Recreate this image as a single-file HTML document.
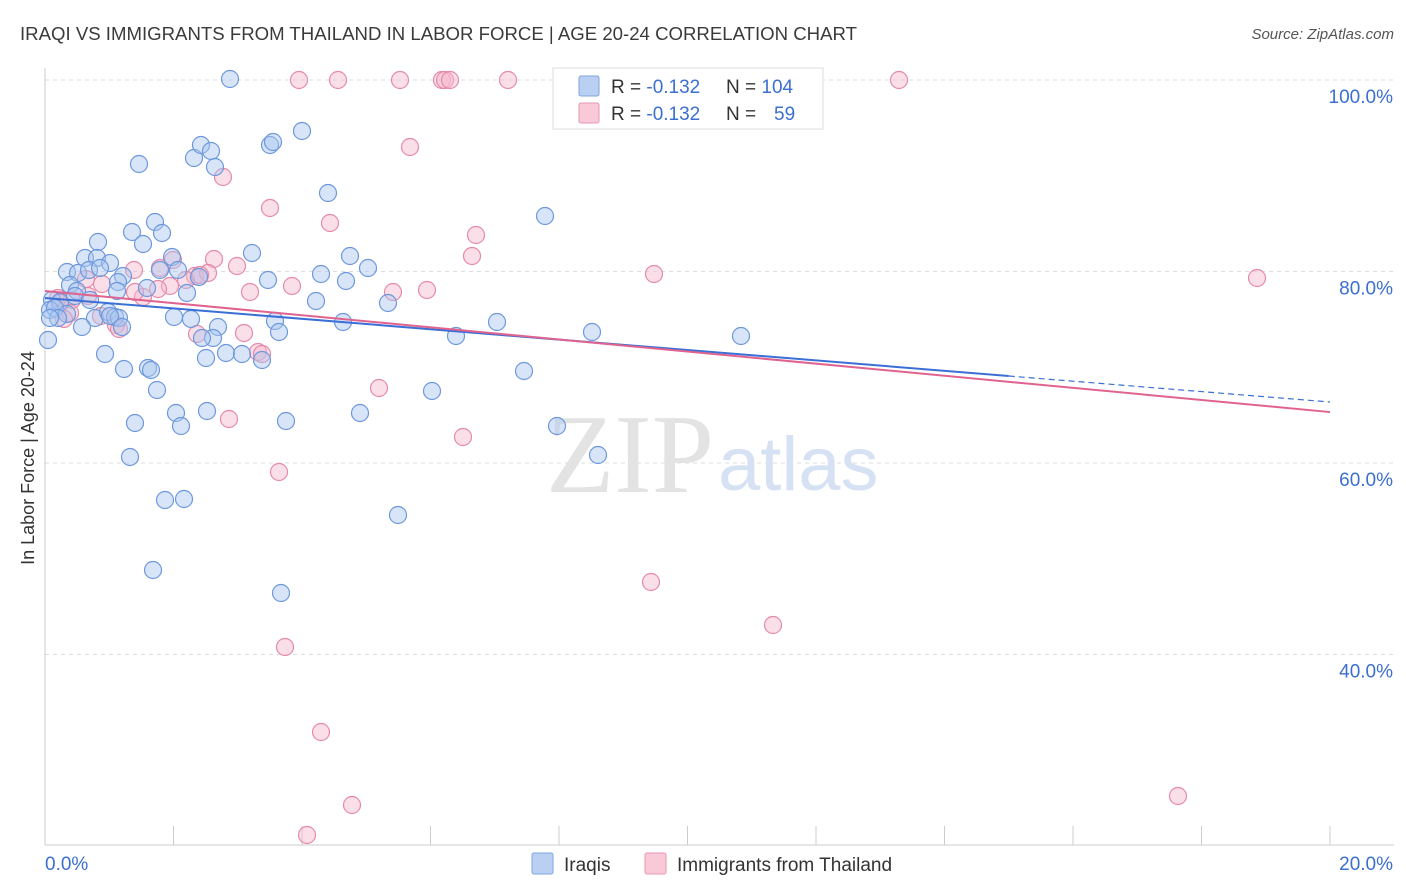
<!DOCTYPE html>
<html><head><meta charset="utf-8"><style>
body{margin:0;background:#fff;font-family:"Liberation Sans",sans-serif}
</style></head><body>
<svg width="1406" height="892" style="display:block">
<text x="20" y="40" font-size="18" fill="#3a3a3a" textLength="837" lengthAdjust="spacingAndGlyphs">IRAQI VS IMMIGRANTS FROM THAILAND IN LABOR FORCE | AGE 20-24 CORRELATION CHART</text>
<text x="1394" y="39" font-size="15" fill="#555" text-anchor="end" font-style="italic">Source: ZipAtlas.com</text>
<text transform="translate(34,458) rotate(-90)" font-size="18" fill="#333" text-anchor="middle">In Labor Force | Age 20-24</text>
<g id="grid"></g>
<text x="714" y="492" font-size="112" fill="#e3e3e3" text-anchor="end" font-family="Liberation Serif">ZIP</text>
<text x="718" y="490" font-size="76" fill="#d6e2f4">atlas</text>
<g id="marks"></g>
<g>
<rect x="553" y="68" width="270" height="61" fill="#fff" stroke="#ddd"/>
<rect x="579" y="76" width="20" height="20" fill="#b9d0f2" stroke="#7ea6e0" rx="2"/>
<rect x="579" y="103" width="20" height="20" fill="#f9c9d8" stroke="#e896b2" rx="2"/>
<text x="611" y="93" font-size="19" fill="#333">R = <tspan fill="#3b6fd0">-0.132</tspan></text>
<text x="726" y="93" font-size="19" fill="#333">N = <tspan fill="#3b6fd0">104</tspan></text>
<text x="611" y="120" font-size="19" fill="#333">R = <tspan fill="#3b6fd0">-0.132</tspan></text>
<text x="726" y="120" font-size="19" fill="#333">N = </text>
<text x="774" y="120" font-size="19" fill="#3b6fd0">59</text>
</g>
<g>
<rect x="532" y="853" width="21" height="21" fill="#b9d0f2" stroke="#7ea6e0" rx="2"/>
<text x="564" y="871" font-size="19" fill="#333">Iraqis</text>
<rect x="645" y="853" width="21" height="21" fill="#f9c9d8" stroke="#e896b2" rx="2"/>
<text x="677" y="871" font-size="19" fill="#333">Immigrants from Thailand</text>
</g>
</svg>
<script>
const blue=[[230,79],[302,131],[139,164],[194,158],[201,145],[211,151],[215,167],[270,145],[273,142],[328,193],[545,216],[155,222],[132,232],[162,233],[143,244],[98,242],[252,253],[172,257],[350,256],[85,258],[97,258],[110,263],[67,272],[78,273],[89,270],[100,268],[123,276],[160,270],[178,270],[199,277],[268,280],[321,274],[346,281],[368,268],[70,285],[77,291],[118,282],[147,288],[187,293],[117,291],[316,301],[388,303],[52,300],[60,302],[50,310],[55,308],[67,314],[58,318],[75,296],[90,300],[95,318],[108,312],[115,317],[119,318],[110,316],[122,327],[82,327],[174,317],[191,319],[218,327],[275,321],[343,322],[497,322],[456,336],[279,332],[592,332],[741,336],[213,338],[202,338],[105,354],[206,358],[226,353],[242,354],[262,360],[124,369],[148,368],[151,370],[524,371],[157,390],[432,391],[176,413],[207,411],[360,413],[135,423],[181,426],[286,421],[557,426],[130,457],[598,455],[165,500],[184,499],[398,515],[153,570],[281,593],[48,340],[50,318]];
const pink=[[299,80],[338,80],[400,80],[442,80],[445,80],[450,80],[508,80],[899,80],[410,147],[223,177],[270,208],[330,223],[476,235],[472,256],[214,259],[237,266],[134,270],[160,268],[173,260],[195,276],[208,273],[186,280],[200,275],[654,274],[1257,278],[170,286],[158,289],[143,297],[135,292],[250,292],[292,286],[393,292],[427,290],[86,279],[102,284],[88,296],[58,298],[72,300],[101,316],[116,325],[119,329],[70,313],[64,319],[60,303],[197,334],[244,333],[258,352],[262,354],[379,388],[229,419],[463,437],[279,472],[651,582],[773,625],[285,647],[321,732],[352,805],[1178,796],[307,835]];
const iraqiX=blue.map(p=>(p[0]-45)/1285*20), iraqiY=blue.map(p=>100-(p[1]-80)/191.5*20);
const thaiX=pink.map(p=>(p[0]-45)/1285*20), thaiY=pink.map(p=>100-(p[1]-80)/191.5*20);
const iraqiTrend=[77.23,-0.543];
const thaiTrend=[77.96,-0.632];
const yTicks=[100,80,60,40];
const xS=v=>45+v/20*1285, yS=v=>80+(100-v)*191.5/20;
const NS="http://www.w3.org/2000/svg";
function mk(t,a,parent){const e=document.createElementNS(NS,t);for(const k in a)e.setAttribute(k,a[k]);parent.appendChild(e);return e;}
const g=document.getElementById('grid'), m=document.getElementById('marks');
yTicks.forEach(v=>{
 const l=mk('line',{x1:45,x2:1394,y1:yS(v),y2:yS(v),stroke:'#ddd','stroke-dasharray':'4,4'},g);
 
 
 const t=mk('text',{x:1393,y:yS(v)+23,'font-size':19,fill:'#3b6fd0','text-anchor':'end'},g);t.textContent=v.toFixed(1)+'%';
 
 
});
mk('line',{x1:45,x2:45,y1:68,y2:845,stroke:'#ccc'},g);
mk('line',{x1:45,x2:1394,y1:845,y2:845,stroke:'#ccc'},g);
for(let i=1;i<=10;i++){mk('line',{x1:xS(i*2),x2:xS(i*2),y1:826,y2:845,stroke:'#ccc'},g);}
let t1=mk('text',{x:45,y:870,'font-size':19,fill:'#3b6fd0'},g);t1.textContent='0.0%';


let t2=mk('text',{x:1393,y:870,'font-size':19,fill:'#3b6fd0','text-anchor':'end'},g);t2.textContent='20.0%';


function dots(X,Y,fill,stroke,name){X.forEach((x,i)=>{const c=mk('circle',{cx:xS(x),cy:yS(Y[i]),r:8.5,fill:fill,'fill-opacity':0.45,stroke:stroke,'stroke-width':1.2},m);
 
 });}
dots(thaiX,thaiY,'#f6b9cc','#e48aaa','thailand-point');
dots(iraqiX,iraqiY,'#a9c5ef','#6d98dc','iraqi-point');
const fb=iraqiTrend, fp=thaiTrend;
let l1=mk('line',{x1:xS(0),y1:yS(fb[0]),x2:xS(15),y2:yS(fb[0]+fb[1]*15),stroke:'#3a6fd6','stroke-width':2},m);

let l2=mk('line',{x1:xS(15),y1:yS(fb[0]+fb[1]*15),x2:xS(20),y2:yS(fb[0]+fb[1]*20),stroke:'#3a6fd6','stroke-width':1.2,'stroke-dasharray':'6,4'},m);

let l3=mk('line',{x1:xS(0),y1:yS(fp[0]),x2:xS(20),y2:yS(fp[0]+fp[1]*20),stroke:'#e0638f','stroke-width':2},m);

</script>
</body></html>
